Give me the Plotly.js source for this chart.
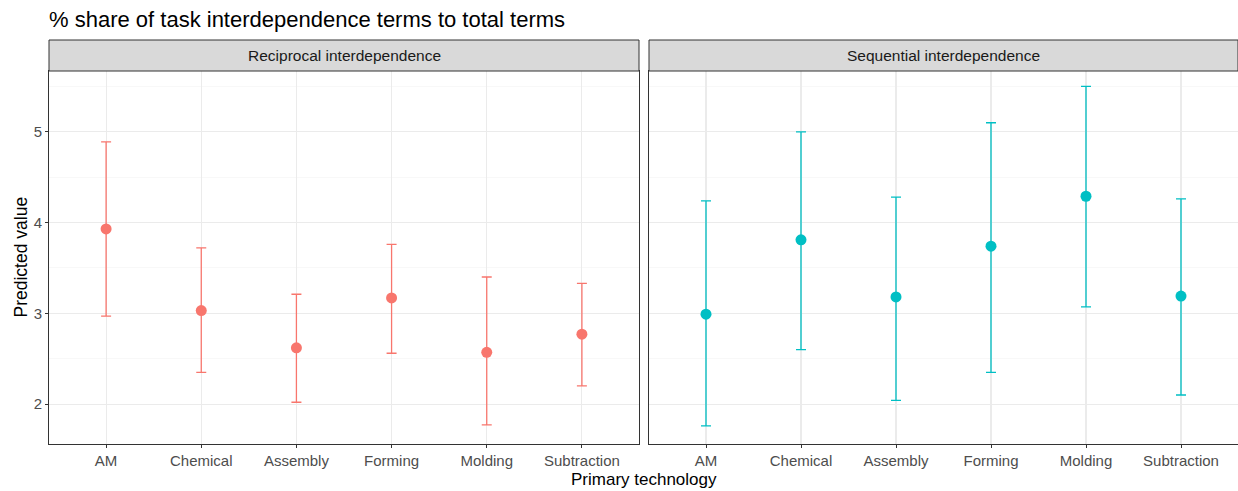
<!DOCTYPE html>
<html><head><meta charset="utf-8">
<script src="https://cdn.plot.ly/plotly-3.0.1.min.js"></script>
<style>html,body{margin:0;padding:0;background:#fff;}#chart{width:1238px;height:491px;}</style>
</head><body><div id="chart"></div>
<script>
const categories = ["AM","Chemical","Assembly","Forming","Molding","Subtraction"];
const panels = ["Reciprocal interdependence","Sequential interdependence"];
const recipEst   = [3.93, 3.03, 2.62, 3.17, 2.57, 2.77];
const recipLow   = [2.97, 2.35, 2.02, 2.56, 1.77, 2.20];
const recipHigh  = [4.89, 3.72, 3.21, 3.76, 3.40, 3.33];
const seqEst     = [2.99, 3.81, 3.18, 3.74, 4.29, 3.19];
const seqLow     = [1.76, 2.60, 2.04, 2.35, 3.07, 2.10];
const seqHigh    = [4.24, 5.00, 4.28, 5.10, 5.50, 4.26];
const yTicks = [2,3,4,5];
const colors = ["#F8766D","#00BFC4"];

function trace(est, lo, hi, color, xa, ya){
  return {
    type:'scatter', mode:'markers', x:categories, y:est, xaxis:xa, yaxis:ya,
    marker:{color:color, size:11},
    error_y:{type:'data', symmetric:false,
      array: hi.map((h,i)=>h-est[i]), arrayminus: est.map((e,i)=>e-lo[i]),
      color:color, thickness:1.3, width:5},
    showlegend:false, hoverinfo:'x+y'
  };
}

const W=1238, H=491, L=49, R=0, T=71, B=47;
const pw = W-L-R, ph = H-T-B;
const d1 = [0, 590/pw], d2 = [600/pw, 1];
const stripH = 31/ph;

const font = {family:'"Liberation Sans", Arial, sans-serif'};
const xcommon = {type:'category', categoryorder:'array', categoryarray:categories,
  range:[-0.6,5.6], showgrid:true, gridcolor:'#EBEBEB', gridwidth:1.1,
  ticks:'outside', ticklen:3, tickcolor:'#333333', tickwidth:1,
  tickfont:{family:font.family, size:15, color:'#4D4D4D'},
  showline:true, linecolor:'#333333', linewidth:1, mirror:true, zeroline:false, fixedrange:true};
const ycommon = {range:[1.56,5.67], tickvals:yTicks, showgrid:true, gridcolor:'#EBEBEB', gridwidth:1.1,
  minor:{tickvals:[2.5,3.5,4.5,5.5], showgrid:true, gridcolor:'#F4F4F4', gridwidth:0.6, ticks:''},
  showline:true, linecolor:'#333333', linewidth:1, mirror:true, zeroline:false, fixedrange:true,
  tickfont:{family:font.family, size:15, color:'#4D4D4D'}};

const layout = {
  width:W, height:H, margin:{l:L, r:R, t:T, b:B},
  paper_bgcolor:'#fff', plot_bgcolor:'#fff', font:font,
  title:{text:'% share of task interdependence terms to total terms', x:49/W, xanchor:'left', y:1-19/H, yanchor:'middle',
    font:{family:font.family, size:22, color:'#000'}},
  xaxis: Object.assign({}, xcommon, {domain:d1, anchor:'y'}),
  xaxis2: Object.assign({}, xcommon, {domain:d2, anchor:'y2'}),
  yaxis: Object.assign({}, ycommon, {domain:[0,1], anchor:'x', ticks:'outside', ticklen:3, tickcolor:'#333333'}),
  yaxis2: Object.assign({}, ycommon, {domain:[0,1], anchor:'x2', showticklabels:false, ticks:''}),
  shapes:[
    {type:'rect', xref:'paper', yref:'paper', x0:d1[0], x1:d1[1], y0:1, y1:1+stripH, fillcolor:'#D9D9D9', line:{color:'#333333', width:1}},
    {type:'rect', xref:'paper', yref:'paper', x0:d2[0], x1:d2[1], y0:1, y1:1+stripH, fillcolor:'#D9D9D9', line:{color:'#333333', width:1}}
  ],
  annotations:[
    {text:panels[0], xref:'paper', yref:'paper', x:(d1[0]+d1[1])/2, y:1+stripH/2, showarrow:false, xanchor:'center', yanchor:'middle', font:{size:15.5, color:'#1A1A1A'}},
    {text:panels[1], xref:'paper', yref:'paper', x:(d2[0]+d2[1])/2, y:1+stripH/2, showarrow:false, xanchor:'center', yanchor:'middle', font:{size:15.5, color:'#1A1A1A'}},
    {text:'Primary technology', xref:'paper', yref:'paper', x:0.5, y:-24/ph, showarrow:false, xanchor:'center', yanchor:'top', font:{size:17, color:'#000'}},
    {text:'Predicted value', xref:'paper', yref:'paper', x:-29/pw, y:0.5, showarrow:false, textangle:-90, xanchor:'center', yanchor:'middle', font:{size:17.5, color:'#000'}}
  ]
};

Plotly.newPlot('chart', [
  trace(recipEst, recipLow, recipHigh, colors[0], 'x', 'y'),
  trace(seqEst, seqLow, seqHigh, colors[1], 'x2', 'y2')
], layout, {displayModeBar:false, staticPlot:true});
</script></body></html>
